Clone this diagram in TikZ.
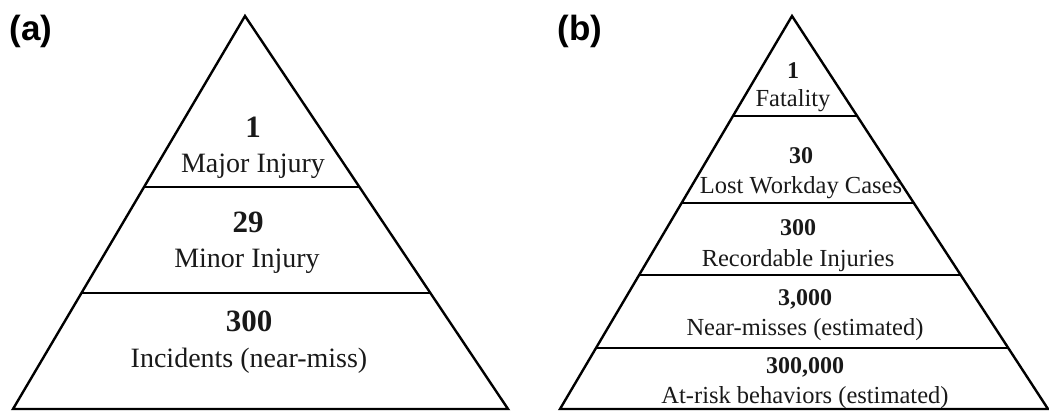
\documentclass[tikz,border=0pt]{standalone}
\usepackage{fontspec}
\setmainfont{Liberation Serif}
\newfontfamily\panelfont{Liberation Sans}
\usetikzlibrary{calc}
\begin{document}
\begin{tikzpicture}[x=1pt,y=-1pt,
  edge/.style={line width=2.4pt, line join=miter},
  band/.style={line width=2pt},
  numA/.style={font=\fontsize{31}{31}\selectfont\bfseries, anchor=base, inner sep=0pt, text=black!90},
  txtA/.style={font=\fontsize{28}{28}\selectfont, anchor=base, inner sep=0pt, text=black!90},
  numB/.style={font=\fontsize{24}{24}\selectfont\bfseries, anchor=base, inner sep=0pt, text=black!90},
  txtB/.style={font=\fontsize{24.5}{24.5}\selectfont, anchor=base, inner sep=0pt, text=black!90},
  panel/.style={font=\panelfont\fontsize{35}{35}\selectfont\bfseries, inner sep=0pt}]
\useasboundingbox (0,0) rectangle (1049,410);

% ---- panel (a): Heinrich pyramid ----
\node[panel] (labA) at (31,31) {(a)};
\coordinate (aT) at (245,16);
\coordinate (aL) at (13,409);
\coordinate (aR) at (508,409);
\draw[edge] (aL) -- (aT) -- (aR) -- cycle;
\draw[band] ($(aT)!0.4351!(aL)$) -- ($(aT)!0.4351!(aR)$);
\draw[band] ($(aT)!0.7048!(aL)$) -- ($(aT)!0.7048!(aR)$);

\node[numA] (a1n) at (253,137) {1};
\node[txtA] (a1t) at (253,172) {Major Injury};
\node[numA] (a2n) at (248,232) {29};
\node[txtA] (a2t) at (247,267) {Minor Injury};
\node[numA] (a3n) at (249,331) {300};
\node[txtA] (a3t) at (249,367) {Incidents (near-miss)};

% ---- panel (b): extended safety pyramid ----
\node[panel] (labB) at (580,31) {(b)};
\coordinate (bT) at (792,16);
\coordinate (bL) at (560,409);
\coordinate (bR) at (1048,409);
\draw[edge] (bL) -- (bT) -- (bR) -- cycle;
\foreach \t in {0.2545,0.4758,0.6590,0.8448}
  \draw[band] ($(bT)!\t!(bL)$) -- ($(bT)!\t!(bR)$);

\node[numB] (b1n) at (793,78) {1};
\node[txtB] (b1t) at (793,106) {Fatality};
\node[numB] (b2n) at (801,163) {30};
\node[txtB] (b2t) at (801,193) {Lost Workday Cases};
\node[numB] (b3n) at (798,235) {300};
\node[txtB] (b3t) at (798,266) {Recordable Injuries};
\node[numB] (b4n) at (805,305) {3,000};
\node[txtB] (b4t) at (805,335) {Near-misses (estimated)};
\node[numB] (b5n) at (805,373) {300,000};
\node[txtB] (b5t) at (805,403) {At-risk behaviors (estimated)};
\end{tikzpicture}
\end{document}
